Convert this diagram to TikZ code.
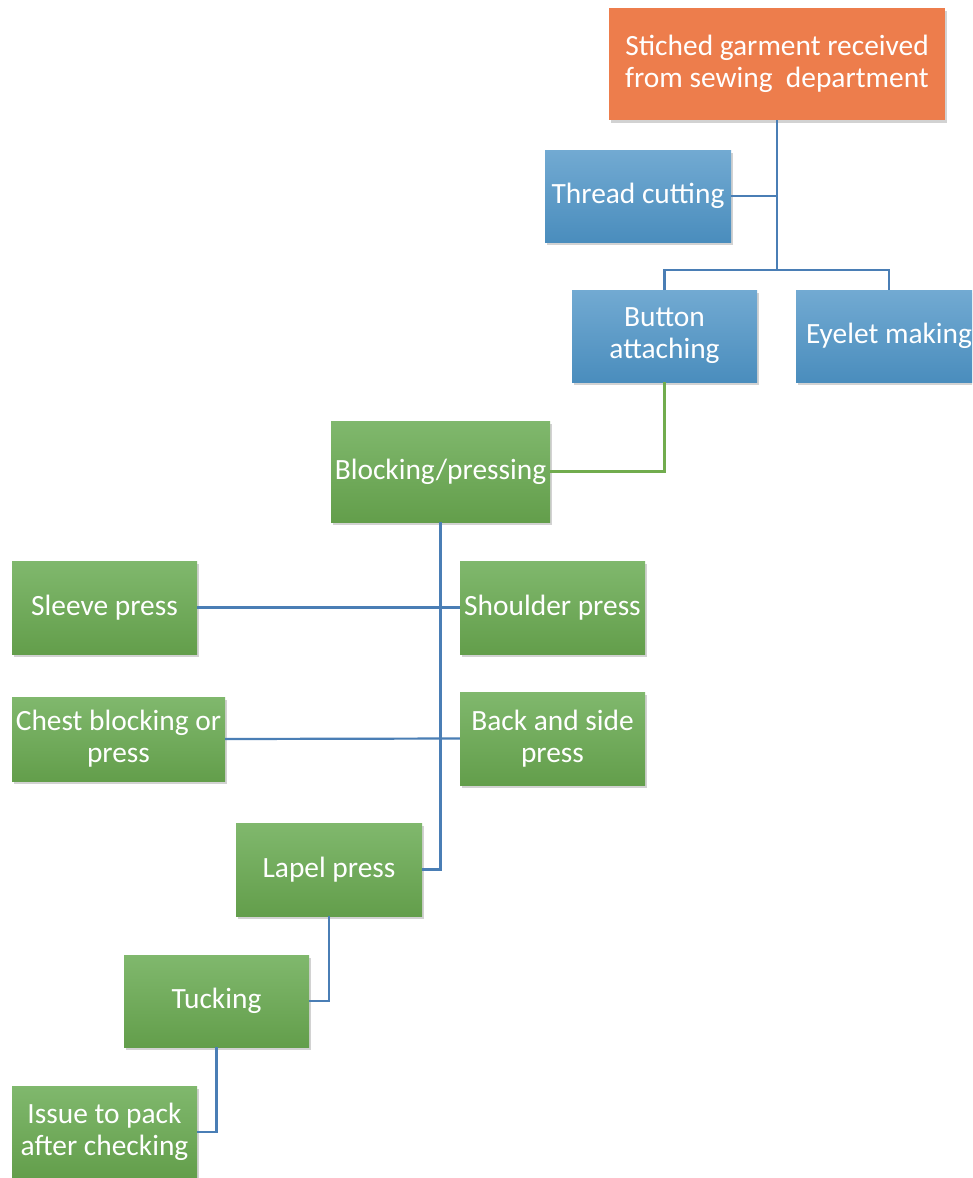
\documentclass[tikz,border=0pt]{standalone}
\usepackage{fontspec}
\setmainfont{Carlito}
\usetikzlibrary{shadows}
\definecolor{orangebox}{HTML}{ED7D4C}
\definecolor{bluetop}{HTML}{72AAD2}
\definecolor{bluebot}{HTML}{4A8DBD}
\definecolor{greentop}{HTML}{80B86D}
\definecolor{greenbot}{HTML}{639E4B}
\definecolor{linkblue}{HTML}{4A7EB5}
\definecolor{linkgreen}{HTML}{71AC4E}
\tikzset{
  box/.style={rectangle, inner sep=1pt, align=center, text=white,
    font=\fontsize{29.4}{32}\selectfont,
    drop shadow={opacity=0.35, shadow xshift=1.5pt, shadow yshift=-3pt}},
  startbox/.style={box, fill=orangebox},
  bluebox/.style={box, top color=bluetop, bottom color=bluebot},
  greenbox/.style={box, top color=greentop, bottom color=greenbot},
  link/.style={draw=linkblue, line width=2.2pt},
  greenlink/.style={draw=linkgreen, line width=2.2pt},
}
\begin{document}
\begin{tikzpicture}[x=1pt, y=-1pt]
  \clip (0,0) rectangle (972,1178);
  \fill[white] (0,0) rectangle (972,1178);

  % receiving and finishing steps
  \node[startbox, minimum width=336pt, minimum height=112pt] (recv) at (777,64)
    {Stiched garment received\\from sewing\ \ department};
  \node[bluebox, minimum width=186pt, minimum height=92pt] (thread) at (638,196) {Thread cutting};
  \node[bluebox, minimum width=185pt, minimum height=92pt] (button) at (664.5,336) {Button\\attaching};
  \node[bluebox, minimum width=186pt, minimum height=92pt] (eyelet) at (889,336) {Eyelet making};

  % pressing steps
  \node[greenbox, minimum width=219pt, minimum height=101pt] (block) at (440.5,471.5) {Blocking/pressing};
  \node[greenbox, minimum width=185pt, minimum height=93pt] (sleeve) at (104.5,607.5) {Sleeve press};
  \node[greenbox, minimum width=185pt, minimum height=93pt] (shoulder) at (552.5,607.5) {Shoulder press};
  \node[greenbox, minimum width=213pt, minimum height=84pt] (chest) at (118.5,739) {Chest blocking or\\press};
  \node[greenbox, minimum width=185pt, minimum height=93pt] (back) at (552.5,738.5) {Back and side\\press};
  \node[greenbox, minimum width=186pt, minimum height=93pt] (lapel) at (329,869.5) {Lapel press};
  \node[greenbox, minimum width=185pt, minimum height=92pt] (tuck) at (216.5,1001) {Tucking};
  \node[greenbox, minimum width=185pt, minimum height=92pt] (issue) at (104.5,1132) {Issue to pack\\after checking};

  % connectors
  \coordinate (split) at (777,270);
  \draw[link] (recv.south) -- (split);
  \draw[link] (thread.east) -- (thread.east -| recv.south);
  \draw[link] (button.north) |- (split) -| (eyelet.north);
  \draw[greenlink] (button.south) |- (block.east);
  \draw[link] (block.south) |- (lapel.east);
  \draw[link] (sleeve.east) -- (shoulder.west);
  \draw[link] (chest.east) -- (back.west);
  \draw[link] (lapel.south) |- (tuck.east);
  \draw[link] (tuck.south) |- (issue.east);
\end{tikzpicture}
\end{document}
